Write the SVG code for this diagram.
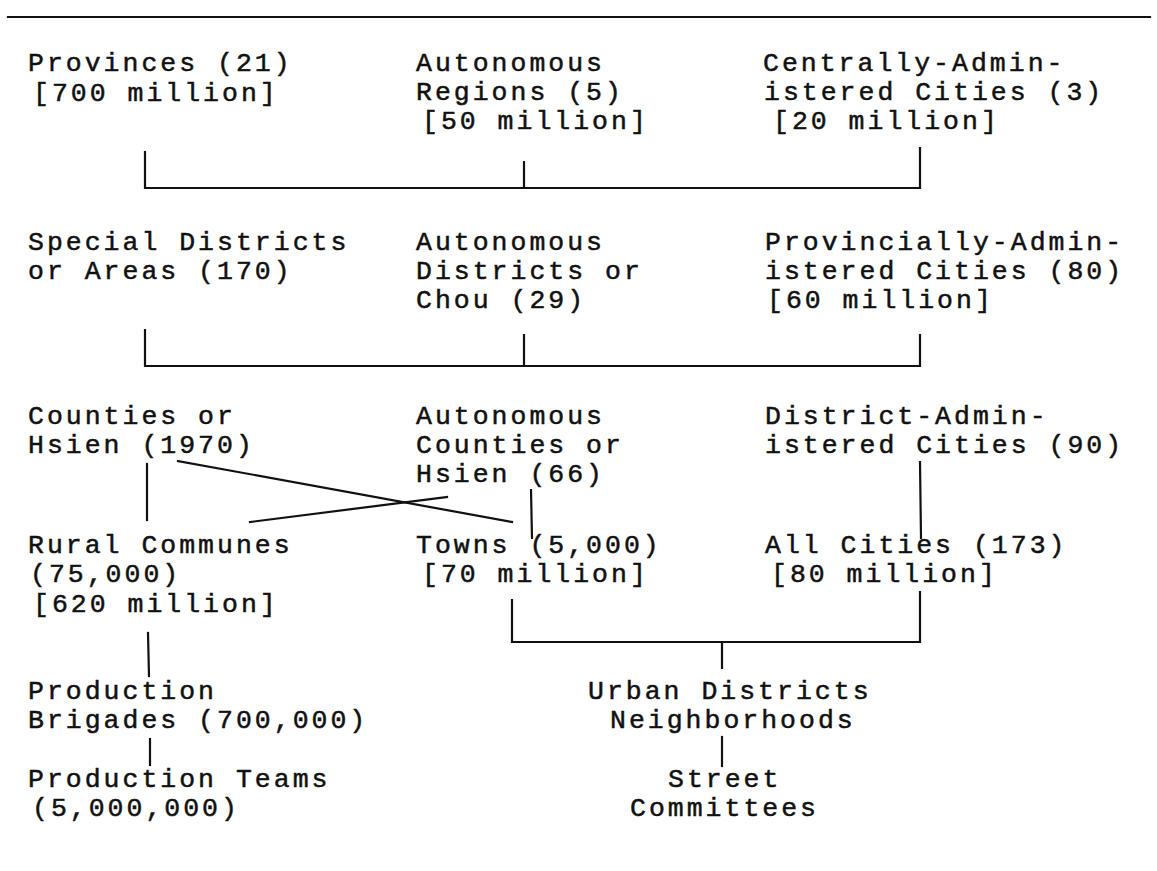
<svg xmlns="http://www.w3.org/2000/svg" width="1157" height="871" viewBox="0 0 1157 871">
<style>
text{font-family:"Liberation Mono","Courier New",monospace;font-size:26.5px;letter-spacing:3px;fill:#111;stroke:#111;stroke-width:0.5}
.c{stroke:#111;stroke-width:2.2;fill:none;stroke-linecap:square}
</style>
<rect width="1157" height="871" fill="#fff"/>
<line class="c" x1="8" y1="17" x2="1150" y2="17"/>
<g id="provinces"><text><tspan x="28" y="71">Provinces (21)</tspan><tspan x="33" y="101">[700 million]</tspan></text></g>
<g id="autonomous-regions"><text><tspan x="416" y="71">Autonomous</tspan><tspan x="416" y="100">Regions (5)</tspan><tspan x="422" y="129">[50 million]</tspan></text></g>
<g id="central-cities"><text><tspan x="763" y="71">Centrally-Admin-</tspan><tspan x="764" y="100">istered Cities (3)</tspan><tspan x="773" y="129">[20 million]</tspan></text></g>
<g id="special-districts"><text><tspan x="28" y="250">Special Districts</tspan><tspan x="28" y="279">or Areas (170)</tspan></text></g>
<g id="autonomous-districts"><text><tspan x="416" y="250">Autonomous</tspan><tspan x="416" y="279">Districts or</tspan><tspan x="416" y="308">Chou (29)</tspan></text></g>
<g id="provincial-cities"><text><tspan x="765" y="250">Provincially-Admin-</tspan><tspan x="765" y="279">istered Cities (80)</tspan><tspan x="767" y="308">[60 million]</tspan></text></g>
<g id="counties"><text><tspan x="28" y="424">Counties or</tspan><tspan x="28" y="453">Hsien (1970)</tspan></text></g>
<g id="autonomous-counties"><text><tspan x="416" y="424">Autonomous</tspan><tspan x="416" y="453">Counties or</tspan><tspan x="416" y="482">Hsien (66)</tspan></text></g>
<g id="district-cities"><text><tspan x="765" y="424">District-Admin-</tspan><tspan x="765" y="453">istered Cities (90)</tspan></text></g>
<g id="rural-communes"><text><tspan x="28" y="553">Rural Communes</tspan><tspan x="30" y="582">(75,000)</tspan><tspan x="33" y="612">[620 million]</tspan></text></g>
<g id="towns"><text><tspan x="416" y="553">Towns (5,000)</tspan><tspan x="422" y="582">[70 million]</tspan></text></g>
<g id="all-cities"><text><tspan x="765" y="553">All Cities (173)</tspan><tspan x="771" y="582">[80 million]</tspan></text></g>
<g id="brigades"><text><tspan x="28" y="699">Production</tspan><tspan x="28" y="728">Brigades (700,000)</tspan></text></g>
<g id="teams"><text><tspan x="28" y="787">Production Teams</tspan><tspan x="32" y="816">(5,000,000)</tspan></text></g>
<g id="urban-districts"><text><tspan x="588" y="699">Urban Districts</tspan><tspan x="610" y="728">Neighborhoods</tspan></text></g>
<g id="street-committees"><text><tspan x="668" y="787">Street</tspan><tspan x="630" y="816">Committees</tspan></text></g>
<g id="connectors">
<path class="c" d="M145 152V188H920V148M524 162V188"/>
<path class="c" d="M145 330V366H920V335M524 335V366"/>
<path class="c" d="M147 464V520"/>
<path class="c" d="M178 461L512 522"/>
<path class="c" d="M250 522L447 497"/>
<path class="c" d="M531 490L532 538"/>
<path class="c" d="M920 462L921 538"/>
<path class="c" d="M148 633L149 676"/>
<path class="c" d="M150 739V765"/>
<path class="c" d="M512 600V642H920V592M722 642V668"/>
<path class="c" d="M722 737V766"/>
</g>
</svg>
